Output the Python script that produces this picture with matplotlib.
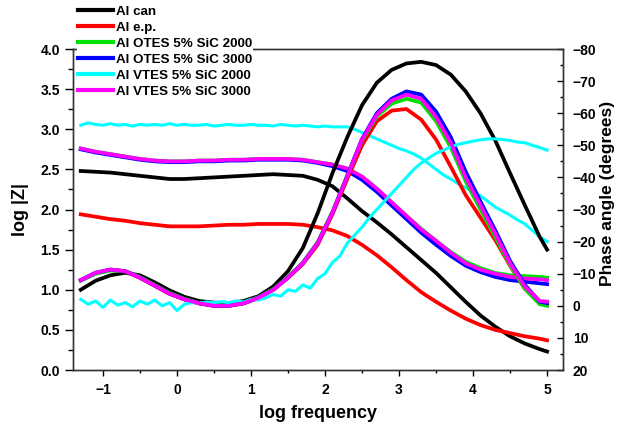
import matplotlib
matplotlib.use("Agg")
import matplotlib.pyplot as plt
from matplotlib.ticker import MultipleLocator, FormatStrFormatter

plt.rcParams['font.family'] = ['Liberation Sans', 'DejaVu Sans']
plt.rcParams['font.weight'] = 'bold'

# log frequency grid shared by most series
logf = [-1.3, -1.1, -0.9, -0.7, -0.5, -0.3, -0.1, 0.1, 0.3, 0.5, 0.7, 0.9,
        1.1, 1.3, 1.5, 1.7, 1.9, 2.1, 2.3, 2.5, 2.7, 2.9, 3.1, 3.3, 3.5,
        3.7, 3.9, 4.1, 4.3, 4.5, 4.7, 4.9, 5.0]

# log |Z| (left axis)
z_can = [2.48, 2.47, 2.46, 2.44, 2.42, 2.40, 2.38, 2.38, 2.39, 2.40, 2.41, 2.42,
         2.43, 2.44, 2.43, 2.42, 2.37, 2.29, 2.14, 1.98, 1.84, 1.69, 1.53, 1.37,
         1.21, 1.03, 0.85, 0.68, 0.54, 0.42, 0.33, 0.26, 0.23]
z_ep = [1.94, 1.91, 1.88, 1.86, 1.83, 1.81, 1.79, 1.79, 1.79, 1.80, 1.81, 1.81,
        1.82, 1.82, 1.82, 1.81, 1.78, 1.74, 1.67, 1.56, 1.43, 1.28, 1.12, 0.97,
        0.85, 0.74, 0.64, 0.56, 0.50, 0.46, 0.42, 0.39, 0.37]
z_otes2000 = [2.76, 2.72, 2.69, 2.66, 2.63, 2.61, 2.60, 2.60, 2.61, 2.61, 2.62, 2.62,
              2.63, 2.63, 2.63, 2.62, 2.59, 2.56, 2.51, 2.41, 2.26, 2.09, 1.92, 1.76,
              1.61, 1.47, 1.35, 1.27, 1.21, 1.18, 1.17, 1.16, 1.15]
z_otes3000 = [2.75, 2.71, 2.68, 2.65, 2.62, 2.60, 2.59, 2.59, 2.60, 2.60, 2.61, 2.61,
              2.62, 2.62, 2.62, 2.61, 2.58, 2.54, 2.48, 2.37, 2.22, 2.05, 1.88, 1.71,
              1.56, 1.42, 1.30, 1.22, 1.16, 1.12, 1.10, 1.08, 1.07]
z_vtes3000 = [2.76, 2.72, 2.69, 2.66, 2.63, 2.61, 2.60, 2.60, 2.61, 2.61, 2.62, 2.62,
              2.63, 2.63, 2.63, 2.62, 2.59, 2.56, 2.51, 2.41, 2.26, 2.09, 1.92, 1.75,
              1.61, 1.46, 1.33, 1.25, 1.20, 1.16, 1.14, 1.13, 1.12]

# phase angle in degrees (right axis)
p_can = [-5.0, -7.8, -9.5, -10.3, -9.5, -7.3, -4.8, -2.8, -1.5, -1.0, -0.8, -1.5,
         -3.0, -6.0, -10.8, -18.0, -28.8, -41.3, -52.5, -62.5, -69.5, -73.5, -75.5, -76.0,
         -75.0, -72.0, -66.8, -60.0, -51.5, -41.3, -31.3, -21.5, -17.5]
p_ep = [-8.0, -10.2, -11.2, -10.7, -8.7, -6.2, -3.7, -2.0, -0.7, 0.0, 0.0, -0.7,
        -2.5, -5.0, -8.7, -13.0, -19.0, -28.5, -39.5, -50.0, -57.5, -60.8, -61.3, -58.0,
        -51.8, -43.3, -34.5, -27.5, -20.5, -12.5, -5.3, -1.0, -0.3]
p_otes2000 = [-7.8, -10.0, -11.0, -10.8, -9.0, -6.5, -4.0, -2.2, -0.9, -0.2, -0.2, -0.9,
              -2.7, -5.2, -9.0, -13.5, -19.8, -29.3, -40.5, -51.5, -59.0, -63.0, -64.5, -63.3,
              -57.5, -49.3, -38.8, -30.0, -21.5, -12.8, -5.3, -0.5, 0.0]
p_otes3000 = [-8.0, -10.3, -11.3, -10.8, -8.8, -6.3, -3.8, -2.0, -0.8, 0.0, 0.0, -0.8,
              -2.5, -5.0, -8.8, -13.3, -19.5, -29.0, -40.5, -52.0, -60.0, -64.5, -66.8, -65.8,
              -60.5, -52.5, -41.8, -32.5, -23.5, -14.0, -6.5, -1.3, -0.8]
p_vtes3000 = [-8.0, -10.3, -11.3, -10.8, -8.8, -6.3, -3.8, -2.0, -0.8, 0.0, 0.0, -0.8,
              -2.5, -5.0, -8.8, -13.3, -19.5, -29.0, -40.3, -51.8, -59.5, -64.0, -65.8, -64.5,
              -58.8, -50.8, -40.0, -31.3, -22.5, -13.3, -6.0, -1.5, -1.3]

# Al VTES 5% SiC 2000 is noisy, so it gets a finer grid
logf_v = [-1.3, -1.2, -1.1, -1.0, -0.9, -0.8, -0.7, -0.6, -0.5, -0.4, -0.3, -0.2,
          -0.1, 0.0, 0.1, 0.2, 0.3, 0.4, 0.5, 0.6, 0.7, 0.8, 0.9, 1.0, 1.1, 1.2,
          1.3, 1.4, 1.5, 1.6, 1.7, 1.8, 1.9, 2.0, 2.1, 2.2, 2.3, 2.4, 2.5, 2.6,
          2.7, 2.8, 2.9, 3.0, 3.1, 3.2, 3.3, 3.4, 3.5, 3.6, 3.7, 3.8, 3.9, 4.0,
          4.1, 4.2, 4.3, 4.4, 4.5, 4.6, 4.7, 4.8, 4.9, 5.0]
z_vtes2000 = [3.05, 3.08, 3.06, 3.05, 3.07, 3.05, 3.06, 3.04, 3.06, 3.05, 3.06, 3.05,
              3.07, 3.05, 3.06, 3.05, 3.05, 3.06, 3.04, 3.05, 3.06, 3.05, 3.05, 3.06,
              3.05, 3.05, 3.04, 3.06, 3.05, 3.04, 3.05, 3.04, 3.03, 3.04, 3.03, 3.03,
              3.03, 3.00, 2.96, 2.92, 2.88, 2.84, 2.80, 2.76, 2.73, 2.69, 2.64, 2.57,
              2.50, 2.43, 2.38, 2.32, 2.27, 2.22, 2.17, 2.10, 2.03, 1.98, 1.93, 1.87,
              1.82, 1.74, 1.66, 1.60]
p_vtes2000 = [-2.0, -0.5, -1.5, 0.5, -1.8, -0.2, -1.0, 0.3, -1.5, -0.5, -1.8, 0.0,
              -1.0, 1.5, -0.5, -1.0, -0.8, -1.2, -1.0, -1.3, -1.0, -1.5, -1.2, -2.0,
              -1.8, -2.5, -3.5, -3.0, -5.0, -4.5, -6.5, -5.5, -8.5, -10.0, -13.5, -15.5,
              -19.5, -22.0, -24.5, -27.5, -30.0, -32.5, -35.0, -37.5, -40.0, -42.5, -44.5, -46.0,
              -47.5, -48.5, -49.5, -50.3, -50.8, -51.3, -51.7, -52.0, -52.0, -51.8, -51.5, -51.0,
              -50.8, -50.0, -49.3, -48.5]

labels = ['Al can', 'Al e.p.', 'Al OTES 5% SiC 2000', 'Al OTES 5% SiC 3000',
          'Al VTES 5% SiC 2000', 'Al VTES 5% SiC 3000']
colors = ['black', 'red', '#00e000', 'blue', 'cyan', 'magenta']

fig = plt.figure(figsize=(6.18, 4.28), dpi=100)
ax = fig.add_axes([0.1181, 0.1355, 0.7929, 0.75])
ax2 = ax.twinx()

lw = 2.7
series = [
    (logf, z_can, p_can),
    (logf, z_ep, p_ep),
    (logf, z_otes2000, p_otes2000),
    (logf, z_otes3000, p_otes3000),
    (logf_v, z_vtes2000, p_vtes2000),
    (logf, z_vtes3000, p_vtes3000),
]
handles = []
for (xs, z, p), lab, c in zip(series, labels, colors):
    lw_i = 2.2 if c == 'cyan' else lw
    h, = ax.plot(xs, z, color=c, lw=lw_i, label=lab, solid_joinstyle='round')
    ax2.plot(xs, p, color=c, lw=lw_i, solid_joinstyle='round')
    handles.append(h)

ax.set_xlim(-1.405, 5.215)
ax.set_ylim(0, 4)
ax2.set_ylim(20, -80)

ax.xaxis.set_major_locator(MultipleLocator(1))
ax.xaxis.set_minor_locator(MultipleLocator(0.5))
ax.yaxis.set_major_locator(MultipleLocator(0.5))
ax.yaxis.set_minor_locator(MultipleLocator(0.25))
ax2.yaxis.set_major_locator(MultipleLocator(10))
ax2.yaxis.set_minor_locator(MultipleLocator(5))
ax.yaxis.set_major_formatter(FormatStrFormatter('%.1f'))

ax.tick_params(axis='y', which='major', direction='out', length=5.5, width=1, labelsize=10, pad=4)
ax.tick_params(axis='y', which='minor', direction='out', length=3.5, width=1)
ax.tick_params(axis='x', which='major', direction='out', length=4, width=1, labelsize=10, pad=5)
ax.tick_params(axis='x', which='minor', direction='out', length=2.5, width=1)
ax2.tick_params(axis='y', which='major', direction='in', length=4, width=1, labelsize=10, pad=7)
ax2.tick_params(axis='y', which='minor', direction='in', length=2.5, width=1)

for a in (ax, ax2):
    for s in a.spines.values():
        s.set_linewidth(1.0)
        s.set_color('#333333')

ax.set_xlabel('log frequency', fontsize=13, fontweight='bold', labelpad=6)
ax.set_ylabel('log |Z|', fontsize=13, fontweight='bold', labelpad=8)
ax2.set_ylabel('Phase angle (degrees)', fontsize=12.5, fontweight='bold')
ax2.yaxis.set_label_coords(1.076, 0.55)

leg = fig.legend(handles=handles, loc='upper left', bbox_to_anchor=(77 / 618, 1 - 5 / 428),
                 frameon=True, fontsize=9.6, handlelength=2.65, handletextpad=0.25,
                 labelspacing=0.27, borderpad=0.05, borderaxespad=0)
leg.get_frame().set_facecolor('white')
leg.get_frame().set_edgecolor('none')
leg.get_frame().set_alpha(1)
for line in leg.get_lines():
    line.set_linewidth(3)

fig.savefig('out.png', dpi=100)
